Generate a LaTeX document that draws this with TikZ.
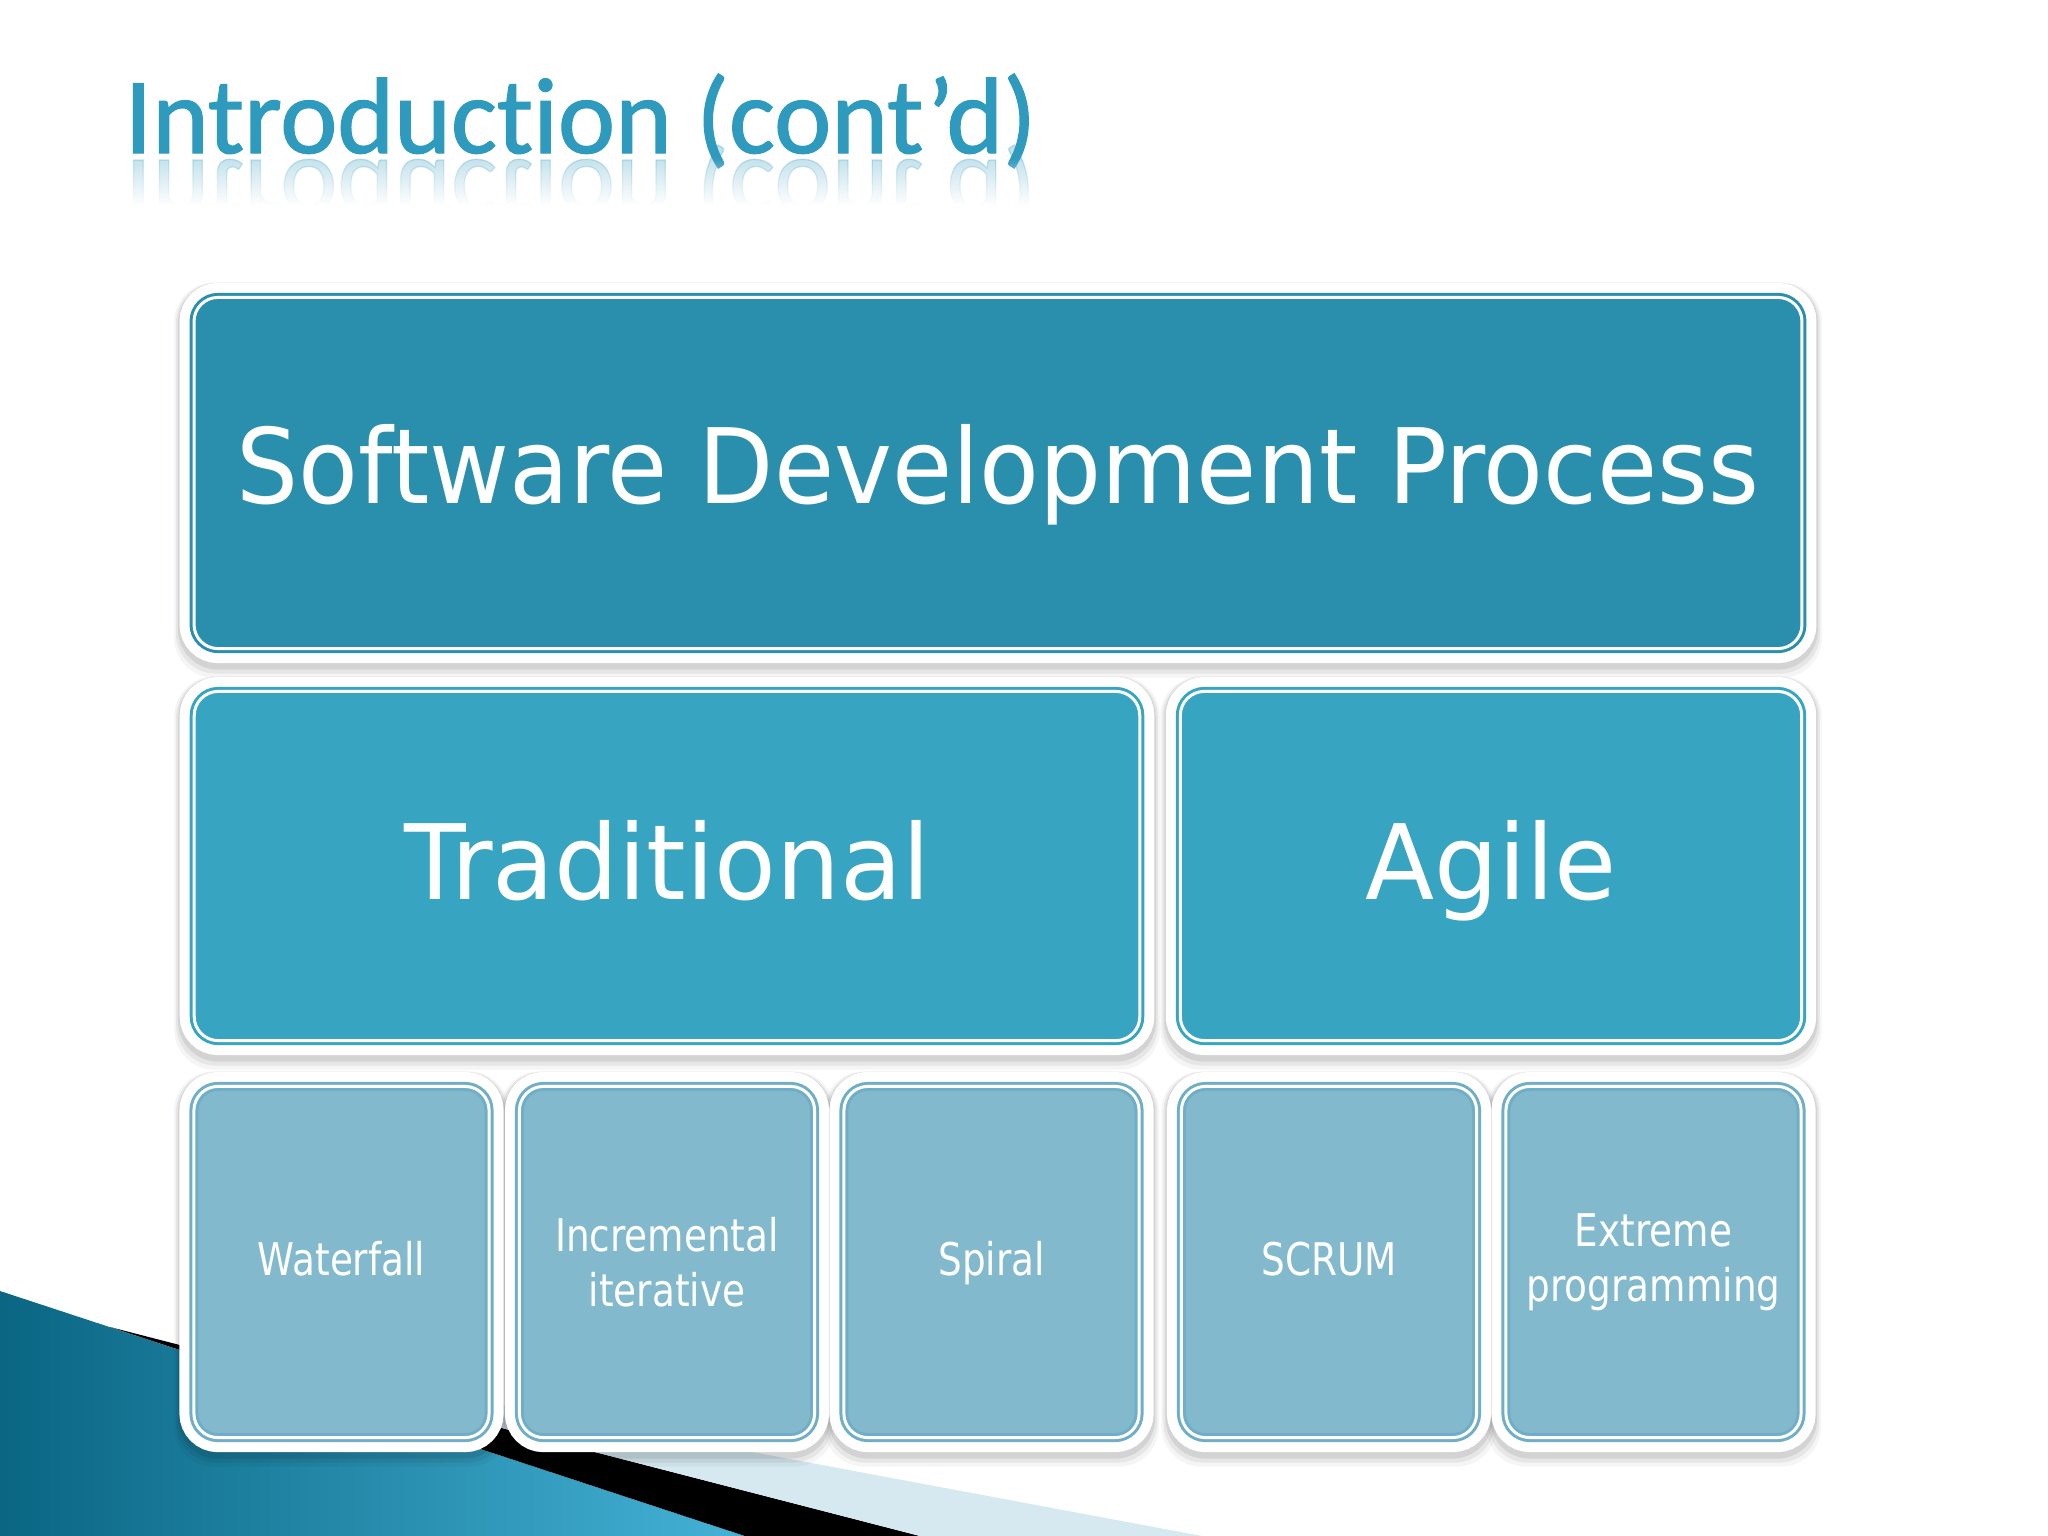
\documentclass[tikz,border=0pt]{standalone}
\usepackage{fontspec}
\setmainfont{DejaVu Sans}
\newfontfamily\bigfont[FakeStretch=0.94]{DejaVu Sans}
\newfontfamily\midfont[FakeStretch=0.97]{DejaVu Sans}
\newfontfamily\smallfont[FakeStretch=0.83]{DejaVu Sans}
\newfontfamily\titlefont[Ligatures=NoCommon, FakeBold=1.2]{Carlito}
\usetikzlibrary{fadings}
\pgfdeclarelayer{back}
\pgfdeclarelayer{shad}
\pgfsetlayers{back,shad,main}
\definecolor{topfill}{HTML}{2A8FAD}
\definecolor{midfill}{HTML}{37A4C2}
\definecolor{lowfill}{HTML}{82B9CD}
\definecolor{lowline}{HTML}{6FAEC6}
\definecolor{titleblue}{HTML}{2E9ABD}
\definecolor{swdark}{HTML}{0A6683}
\definecolor{swlight}{HTML}{44B2D6}
\definecolor{swpale}{HTML}{D6E9F1}
\tikzset{
  procbox/.style={rectangle, rounded corners=0.24cm, inner sep=0pt, outer sep=0pt,
    text=white, align=center, line width=0.03cm, double=white, double distance=0.03cm},
  topbox/.style={procbox, fill=topfill, draw=topfill,
    font=\bigfont\fontsize{29.6}{36}\selectfont, text height=0.6cm, text depth=0cm},
  midbox/.style={procbox, fill=midfill, draw=midfill,
    font=\midfont\fontsize{29.6}{36}\selectfont, text height=0.66cm, text depth=0cm},
  lowbox/.style={procbox, fill=lowfill, draw=lowline,
    font=\smallfont\fontsize{12.8}{15.65}\selectfont,
    minimum width=2.95cm, minimum height=3.51cm},
  oneline/.style={text height=0.26cm, text depth=0cm},
  whiteframe/.style={draw=white, line width=0.29cm, rounded corners=0.24cm},
  shadefx/.style={fill=black, opacity=#1, rounded corners=0.4cm}
}
\newcommand\dropshade[1]{%
  \path[shadefx=0.04] ([xshift=-0.2cm,yshift=-0.29cm]#1.south west) rectangle ([xshift=0.2cm,yshift=0.15cm]#1.north east);
  \path[shadefx=0.06] ([xshift=-0.18cm,yshift=-0.25cm]#1.south west) rectangle ([xshift=0.18cm,yshift=0.145cm]#1.north east);
  \path[shadefx=0.08] ([xshift=-0.16cm,yshift=-0.21cm]#1.south west) rectangle ([xshift=0.16cm,yshift=0.145cm]#1.north east);
}
\begin{document}
\begin{tikzpicture}[x=0.01cm, y=-0.01cm]
\useasboundingbox (0,0) rectangle (2048,1536);

% background and swoosh
\begin{pgfonlayer}{back}
  \fill[white] (0,0) rectangle (2048,1536);
  \shade[left color=swdark, right color=swlight] (0,1291) -- (745,1536) -- (0,1536) -- cycle;
  \fill[black] (110,1327) -- (920,1536) -- (745,1536) -- cycle;
  \fill[swpale] (185,1346) -- (1202,1536) -- (920,1536) -- cycle;
\end{pgfonlayer}

% title with reflection
\node[anchor=base west, inner sep=0pt, text=titleblue,
      font=\titlefont\fontsize{30.8}{36}\selectfont] (title) at (124,153) {Introduction (cont’d)};
\node[anchor=base west, inner sep=0pt, text=titleblue, opacity=0.28, yscale=-1, transform shape,
      font=\titlefont\fontsize{30.8}{36}\selectfont] (titlerefl) at (124,160) {Introduction (cont’d)};
\fill[white, path fading=north] (100,158) rectangle (1080,205);
\fill[white] (100,205) rectangle (1080,250);

% boxes
\node[topbox, minimum width=16.07cm, minimum height=3.51cm] (sdp) at (998,473) {Software Development Process};
\node[midbox, minimum width=9.45cm, minimum height=3.49cm] (trad) at (667,866) {Traditional};
\node[midbox, minimum width=6.21cm, minimum height=3.49cm] (agile) at (1491,866) {Agile};
\node[lowbox, oneline] (wf) at (341.5,1262) {Waterfall};
\node[lowbox] (inc) at (667,1262) {Incremental\\iterative};
\node[lowbox, oneline] (spi) at (991.5,1262) {Spiral};
\node[lowbox, oneline] (scr) at (1329,1262) {SCRUM};
\node[lowbox] (xp) at (1653.5,1262) {Extreme\\programming};

% shadows and white frames
\begin{pgfonlayer}{shad}
  \foreach \n in {sdp,trad,agile,wf,inc,spi,scr,xp} {\dropshade{\n}}
  \foreach \n in {sdp,trad,agile,wf,inc,spi,scr,xp} {
    \path[whiteframe] (\n.south west) rectangle (\n.north east);}
\end{pgfonlayer}
\end{tikzpicture}
\end{document}
